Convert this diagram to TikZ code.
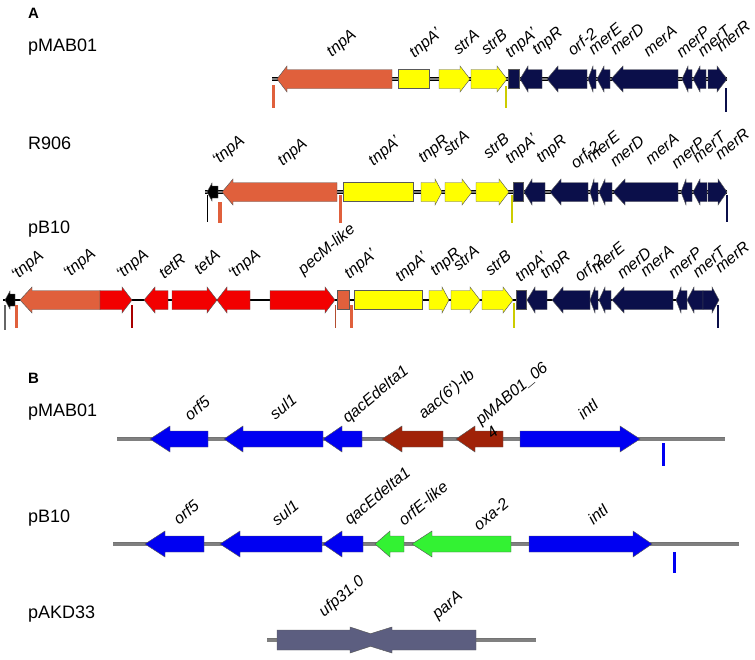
\documentclass[tikz,border=0pt]{standalone}
\usepackage{fontspec}
\setmainfont{Liberation Sans}

\definecolor{tnpcol}{HTML}{E0603C}
\definecolor{strcol}{HTML}{FFFF00}
\definecolor{mercol}{HTML}{0B0F4A}
\definecolor{tetcol}{HTML}{F20000}
\definecolor{intcol}{HTML}{0000F2}
\definecolor{aaccol}{HTML}{A02208}
\definecolor{oxacol}{HTML}{33F233}
\definecolor{parcol}{HTML}{5C5E80}
\definecolor{linecol}{HTML}{808080}

% gene arrow: colour, start, head base, tip, row
\newcommand{\genearrow}[5]{%
  \filldraw[gene, fill=#1] (#2,#5-\bodyh) -- (#3,#5-\bodyh) -- (#3,#5-\headh)
    -- (#4,#5) -- (#3,#5+\headh) -- (#3,#5+\bodyh) -- (#2,#5+\bodyh) -- cycle;}
% gene box: colour, start, end, row
\newcommand{\genebox}[4]{%
  \filldraw[gene, fill=#1] (#2,#4-\bodyh) rectangle (#3,#4+\bodyh);}
% stop marker: colour, width, x, top, bottom
\newcommand{\stopmark}[5]{\draw[#1, line width=#2] (#3,#4) -- (#3,#5);}

\begin{document}
\begin{tikzpicture}[
    x=1pt, y=-1pt,
    gene/.style={draw=black!65, line width=0.45pt, line join=miter},
    glabel/.style={font=\fontsize{16}{17.5}\selectfont\itshape, rotate=40, inner sep=0pt},
    rowname/.style={font=\fontsize{18}{20}\selectfont, anchor=west, inner sep=0pt},
    panel/.style={font=\fontsize{15}{17}\selectfont\bfseries, anchor=west, inner sep=0pt},
    backboneA/.style={draw=black, line width=0.8pt, double=linecol, double distance=1.6pt},
    backboneB/.style={draw=black!55, line width=0.5pt, double=linecol, double distance=3pt}
]
\useasboundingbox (0,0) rectangle (755,659);

% Panel A
\begin{scope}
    \def\bodyh{9.5}\def\headh{13}
    \node[panel] (pa) at (28,13) {A};

    % pMAB01
    \node[rowname] (n1) at (28,47) {pMAB01};
    \draw[backboneA] (272,79) -- (727,79);
    \genearrow{tnpcol}{392}{287}{277}{79}
    \genebox{strcol}{398}{429}{79}
    \genearrow{strcol}{439}{460}{470}{79}
    \genearrow{strcol}{471}{497}{507}{79}
    \genebox{mercol}{508}{519}{79}
    \genearrow{mercol}{542}{528}{520}{79}
    \genearrow{mercol}{587}{558}{547}{79}
    \genearrow{mercol}{596}{593}{588}{79}
    \genearrow{mercol}{610}{604}{597}{79}
    \genearrow{mercol}{678}{623}{611}{79}
    \genearrow{mercol}{692}{688}{682}{79}
    \genearrow{mercol}{706}{700}{693}{79}
    \genearrow{mercol}{708}{717}{727}{79}
    \stopmark{tnpcol}{3pt}{273.5}{85}{108}
    \stopmark{strcol!80!black}{2pt}{506}{86}{108}
    \stopmark{mercol}{1.3pt}{726}{88}{112}
    \node[glabel] (a1) at (342,44) {tnpA};
    \node[glabel] (a2) at (426,44) {tnpA'};
    \node[glabel] (a3) at (466,42) {strA};
    \node[glabel] (a4) at (494,42) {strB};
    \node[glabel] (a5) at (522,44) {tnpA'};
    \node[glabel] (a6) at (548,42) {tnpR};
    \node[glabel] (a7) at (582,42) {orf-2};
    \node[glabel] (a8) at (605,39) {merE};
    \node[glabel] (a9) at (627,39) {merD};
    \node[glabel] (a10) at (660,41) {merA};
    \node[glabel] (a11) at (693,42) {merP};
    \node[glabel] (a12) at (714,41) {merT};
    \node[glabel] (a13) at (733,36) {merR};

    % R906
    \node[rowname] (n2) at (28,143) {R906};
    \draw[backboneA] (205,192) -- (727,192);
    {\def\bodyh{6}\def\headh{9}\genearrow{black}{218}{212}{207}{192}}
    \genearrow{tnpcol}{337}{233}{222}{192}
    \genebox{strcol}{343}{413}{192}
    \genearrow{strcol}{421}{435}{442}{192}
    \genearrow{strcol}{445}{462}{472}{192}
    \genearrow{strcol}{476}{499}{509}{192}
    \genebox{mercol}{513}{523}{192}
    \genearrow{mercol}{545}{532}{524}{192}
    \genearrow{mercol}{588}{561}{550}{192}
    \genearrow{mercol}{598}{594}{590}{192}
    \genearrow{mercol}{612}{605}{599}{192}
    \genearrow{mercol}{678}{625}{613}{192}
    \genearrow{mercol}{692}{686}{681}{192}
    \genearrow{mercol}{707}{700}{693}{192}
    \genearrow{mercol}{708}{718}{727}{192}
    \stopmark{black}{1.3pt}{207.5}{195}{222}
    \stopmark{tnpcol}{4pt}{219.5}{202}{223}
    \stopmark{tnpcol}{3pt}{340}{195}{223}
    \stopmark{strcol!80!black}{2pt}{512}{195}{223}
    \stopmark{mercol}{1.3pt}{727}{195}{222}
    \node[glabel] (b1) at (229,151) {`tnpA};
    \node[glabel] (b2) at (293,153) {tnpA};
    \node[glabel] (b3) at (385,152) {tnpA'};
    \node[glabel] (b4) at (434,150) {tnpR};
    \node[glabel] (b5) at (456,143) {strA};
    \node[glabel] (b6) at (496,146) {strB};
    \node[glabel] (b7) at (522,150) {tnpA'};
    \node[glabel] (b8) at (552,150) {tnpR};
    \node[glabel] (b9) at (585,155) {orf-2};
    \node[glabel] (b10) at (603,147) {merE};
    \node[glabel] (b11) at (627,151) {merD};
    \node[glabel] (b12) at (662,149) {merA};
    \node[glabel] (b13) at (688,153) {merP};
    \node[glabel] (b14) at (709,147) {merT};
    \node[glabel] (b15) at (732,144) {merR};

    % pB10
    \node[rowname] (n3) at (28,229) {pB10};
    \draw[black, line width=2.5pt] (3,300) -- (719,300);
    {\def\bodyh{6}\def\headh{9}\genearrow{black}{15}{10}{5}{300}}
    \genearrow{tnpcol}{100}{32}{20}{300}
    \genearrow{tetcol}{100}{122}{132}{300}
    \genearrow{tetcol}{168}{155}{144}{300}
    \genearrow{tetcol}{172}{207}{217}{300}
    \genearrow{tetcol}{250}{227}{217}{300}
    \genearrow{tetcol}{270}{325}{335}{300}
    \genebox{tnpcol}{337}{349}{300}
    \genebox{strcol}{354}{422}{300}
    \genearrow{strcol}{429}{442}{449}{300}
    \genearrow{strcol}{451}{470}{480}{300}
    \genearrow{strcol}{482}{503}{513}{300}
    \genebox{mercol}{516}{526}{300}
    \genearrow{mercol}{547}{535}{527}{300}
    \genearrow{mercol}{590}{563}{552}{300}
    \genearrow{mercol}{598}{595}{590}{300}
    \genearrow{mercol}{611}{605}{599}{300}
    \genearrow{mercol}{673}{624}{612}{300}
    \genearrow{mercol}{687}{681}{676}{300}
    \genearrow{mercol}{703}{694}{687}{300}
    \genearrow{mercol}{703}{712}{719}{300}
    \stopmark{black!60}{1.2pt}{5}{305}{330}
    \stopmark{tnpcol}{3.5pt}{16.5}{305}{328}
    \stopmark{tetcol!70!black}{1.3pt}{132}{305}{328}
    \stopmark{tnpcol!80!black}{1.3pt}{335.5}{305}{328}
    \stopmark{tnpcol}{3pt}{351.5}{305}{328}
    \stopmark{strcol!80!black}{2pt}{514}{303}{328}
    \stopmark{mercol}{1.3pt}{718}{305}{328}
    \node[glabel] (c1) at (28,266) {`tnpA};
    \node[glabel] (c2) at (80,264) {`tnpA};
    \node[glabel] (c3) at (133,265) {`tnpA};
    \node[glabel] (c4) at (172,266) {tetR};
    \node[glabel] (c5) at (207,262) {tetA};
    \node[glabel] (c6) at (245,265) {`tnpA};
    \node[glabel] (c7) at (327,250) {pecM-like};
    \node[glabel] (c8) at (361,265) {tnpA'};
    \node[glabel] (c9) at (412,268) {tnpA'};
    \node[glabel] (c10) at (446,263) {tnpR};
    \node[glabel] (c11) at (466,258) {strA};
    \node[glabel] (c12) at (498,263) {strB};
    \node[glabel] (c13) at (532,268) {tnpA'};
    \node[glabel] (c14) at (556,266) {tnpR};
    \node[glabel] (c15) at (589,268) {orf-2};
    \node[glabel] (c16) at (608,258) {merE};
    \node[glabel] (c17) at (634,263) {merD};
    \node[glabel] (c18) at (657,261) {merA};
    \node[glabel] (c19) at (685,263) {merP};
    \node[glabel] (c20) at (709,262) {merT};
    \node[glabel] (c21) at (732,257) {merR};
\end{scope}

% Panel B
\begin{scope}
    \def\bodyh{8}\def\headh{13}
    \node[panel] (pb) at (28,378) {B};

    % pMAB01
    \node[rowname] (m1) at (28,412) {pMAB01};
    \draw[backboneB] (117,439) -- (725,439);
    \genearrow{intcol}{208}{170}{150}{439}
    \genearrow{intcol}{323}{243}{224}{439}
    \genearrow{intcol}{362}{342}{323}{439}
    \genearrow{aaccol}{443}{402}{382}{439}
    \genearrow{aaccol}{503}{475}{456}{439}
    \genearrow{intcol}{520}{620}{640}{439}
    \stopmark{intcol}{3pt}{663}{443}{466}
    \node[glabel] (d1) at (197,408) {orf5};
    \node[glabel] (d2) at (283,407) {sul1};
    \node[glabel] (d3) at (376,395) {qacEdelta1};
    \node[glabel] (d4) at (447,395) {aac(6')-Ib};
    \node[glabel, align=left] (d5) at (517,400) {pMAB01\_06\\4};
    \node[glabel] (d6) at (588,409) {intI};

    % pB10
    \node[rowname] (m2) at (28,518) {pB10};
    \draw[backboneB] (113,544) -- (739,544);
    \genearrow{intcol}{204}{165}{145}{544}
    \genearrow{intcol}{322}{240}{220}{544}
    \genearrow{intcol}{363}{342}{323}{544}
    \genearrow{oxacol}{404}{390}{375}{544}
    \genearrow{oxacol}{511}{432}{412}{544}
    \genearrow{intcol}{529}{633}{652}{544}
    \stopmark{intcol}{3pt}{674}{552}{573}
    \node[glabel] (e1) at (186,512) {orf5};
    \node[glabel] (e2) at (285,513) {sul1};
    \node[glabel] (e3) at (378,497) {qacEdelta1};
    \node[glabel] (e4) at (423,503) {orfE-like};
    \node[glabel] (e5) at (491,514) {oxa-2};
    \node[glabel] (e6) at (598,514) {intI};

    % pAKD33, the two heads overlap
    \node[rowname] (m3) at (28,614) {pAKD33};
    \draw[backboneB] (267,640) -- (536,640);
    \filldraw[gene, fill=parcol] (277,630) -- (350,630) -- (350,627) -- (370.5,633.7)
        -- (392,627) -- (392,630) -- (476,630) -- (476,650) -- (392,650) -- (392,653)
        -- (370.5,646.3) -- (350,653) -- (350,650) -- (277,650) -- cycle;
    \node[glabel] (f1) at (342,597) {ufp31.0};
    \node[glabel] (f2) at (448,606) {parA};
\end{scope}

\end{tikzpicture}
\end{document}
